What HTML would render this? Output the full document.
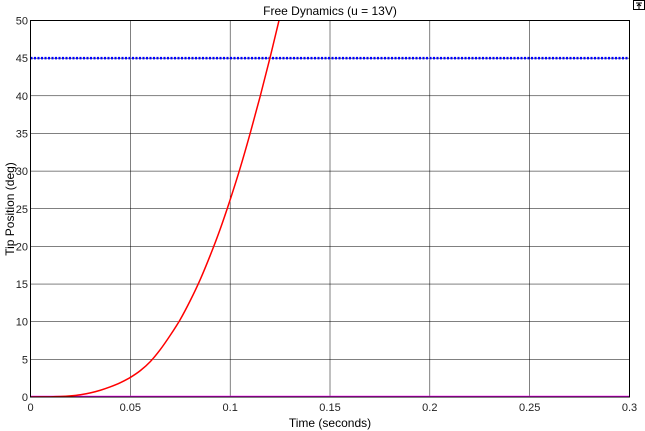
<!DOCTYPE html>
<html><head><meta charset="utf-8"><style>
body{margin:0;background:#fff;width:645px;height:431px;overflow:hidden}
svg{display:block;font-family:"Liberation Sans",sans-serif}
</style></head><body>
<svg id="chart" width="645" height="431">
<rect x="0" y="0" width="645" height="431" fill="#fff"/>
<text x="330" y="15" font-size="12" text-anchor="middle">Free Dynamics (u = 13V)</text>
<g id="grid"></g>
<g id="ticks"></g>
<g id="series"></g>
<rect x="30.5" y="20.5" width="599" height="376.5" fill="none" stroke="#000"/>
<text x="330" y="427" font-size="12" text-anchor="middle">Time (seconds)</text>
<text x="14" y="209" font-size="12" text-anchor="middle" transform="rotate(-90 14 209)">Tip Position (deg)</text>
<g><rect x="633.5" y="0.5" width="11" height="9" fill="#fff" stroke="#000"/><path d="M636 3h6M639 4v5M637 6l2-2 2 2" stroke="#000" fill="none"/></g>
</svg>
<script>
const xTicks=[0,0.05,0.1,0.15,0.2,0.25,0.3];
const xTickLabels=["0","0.05","0.1","0.15","0.2","0.25","0.3"];
const yTicks=[0,5,10,15,20,25,30,35,40,45,50];
const redT=[0,0.01,0.015,0.02,0.025,0.03,0.035,0.04,0.045,0.05,0.055,0.06,0.065,0.07,0.075,0.08,0.085,0.09,0.095,0.1,0.105,0.11,0.115,0.12,0.125,0.13];
const redY=[0,0.02,0.06,0.15,0.3,0.55,0.9,1.35,1.9,2.6,3.5,4.7,6.3,8.2,10.3,12.8,15.6,18.8,22.3,26.2,30.4,35,39.9,45.1,50.6,56.3];
const refLevel=45;
const zeroLevel=0;
const X0=30.5,X1=629.5,Y0=397,Y1=20.5;
const sx=v=>X0+(v-0)/(0.3)*(X1-X0);
const sy=v=>Y0-(v/50)*(Y0-Y1);
const NS="http://www.w3.org/2000/svg";
function mk(t,a,p){const e=document.createElementNS(NS,t);for(const k in a)e.setAttribute(k,a[k]);p.appendChild(e);return e;}
const g=document.getElementById('grid'),tk=document.getElementById('ticks'),s=document.getElementById('series');
xTicks.forEach((v,i)=>{
 const l=mk('line',{x1:sx(v),x2:sx(v),y1:Y1,y2:Y0,stroke:'#000','stroke-width':0.5},g);
 
 
 const t=mk('text',{x:sx(v),y:411,'font-size':11,'text-anchor':'middle',fill:'#222'},tk);
 t.textContent=xTickLabels[i];
 
 
});
yTicks.forEach(v=>{
 const l=mk('line',{x1:X0,x2:X1,y1:sy(v),y2:sy(v),stroke:'#000','stroke-width':0.5},g);
 
 
 const t=mk('text',{x:28,y:sy(v)+4,'font-size':11,'text-anchor':'end',fill:'#222'},tk);
 t.textContent=String(v);
 
 
});
const cp=mk('clipPath',{id:'cp'},s);mk('rect',{x:X0,y:Y1,width:X1-X0,height:Y0-Y1},cp);
const ref=mk('line',{x1:X0,x2:X1,y1:sy(refLevel),y2:sy(refLevel),stroke:'#00f','stroke-width':2.5,'stroke-dasharray':'2 1.5'},s);


const zl=mk('line',{x1:X0,x2:X1,y1:sy(zeroLevel)-0.5,y2:sy(zeroLevel)-0.5,stroke:'#f0f','stroke-width':1.5},s);


const P=redT.map((t,i)=>[sx(t),sy(redY[i])]);
let d='M'+P[0][0]+','+P[0][1];
for(let i=0;i<P.length-1;i++){
 const p0=P[Math.max(0,i-1)],p1=P[i],p2=P[i+1],p3=P[Math.min(P.length-1,i+2)];
 const c1=[p1[0]+(p2[0]-p0[0])/6,p1[1]+(p2[1]-p0[1])/6];
 const c2=[p2[0]-(p3[0]-p1[0])/6,p2[1]-(p3[1]-p1[1])/6];
 d+=' C'+c1[0]+','+c1[1]+' '+c2[0]+','+c2[1]+' '+p2[0]+','+p2[1];
}
const red=mk('path',{d:d,fill:'none',stroke:'#f00','stroke-width':1.5,'clip-path':'url(#cp)'},s);


</script>
</body></html>
